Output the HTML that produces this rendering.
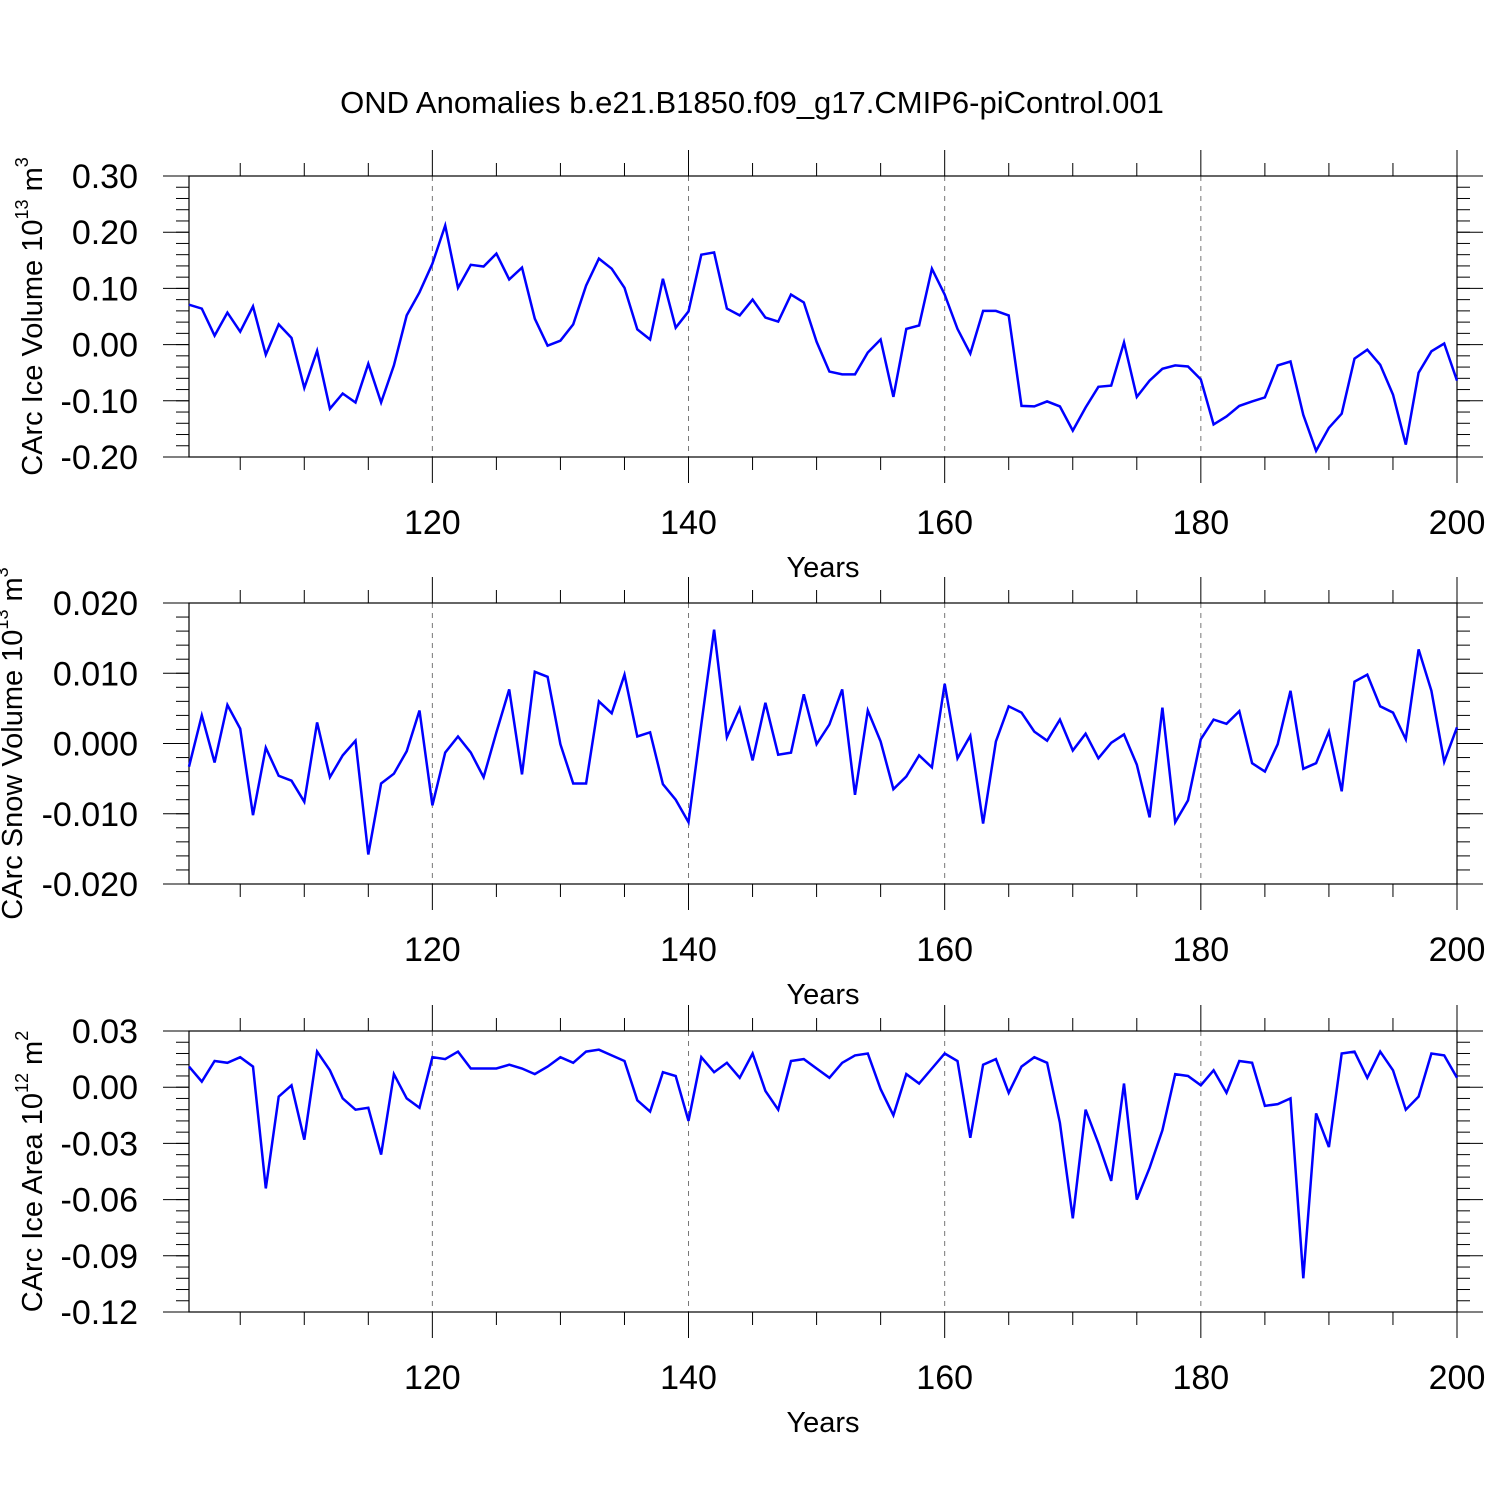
<!DOCTYPE html>
<html><head><meta charset="utf-8"><style>
html,body{margin:0;padding:0;background:#fff;}
svg{display:block;font-family:"Liberation Sans",sans-serif;}
</style></head><body>
<svg id="chart" width="1500" height="1500" viewBox="0 0 1500 1500" xmlns="http://www.w3.org/2000/svg">
<text x="752" y="113" font-size="31" text-anchor="middle">OND Anomalies b.e21.B1850.f09_g17.CMIP6-piControl.001</text>
</svg>
<script>
const years = []; for (let y = 101; y <= 200; y++) years.push(y);
const xTicks = [120, 140, 160, 180, 200];
const iceVolume = [0.071,0.064,0.016,0.057,0.023,0.068,-0.018,0.036,0.012,-0.077,-0.011,-0.114,-0.087,-0.103,-0.034,-0.103,-0.037,0.052,0.093,0.144,0.212,0.101,0.142,0.139,0.162,0.116,0.137,0.046,-0.002,0.007,0.036,0.105,0.153,0.135,0.101,0.027,0.009,0.117,0.030,0.059,0.160,0.164,0.064,0.052,0.080,0.048,0.041,0.089,0.075,0.005,-0.048,-0.053,-0.053,-0.014,0.009,-0.093,0.028,0.034,0.135,0.089,0.028,-0.016,0.060,0.060,0.052,-0.109,-0.110,-0.101,-0.110,-0.153,-0.112,-0.075,-0.073,0.004,-0.093,-0.064,-0.043,-0.037,-0.039,-0.062,-0.142,-0.128,-0.109,-0.101,-0.094,-0.037,-0.030,-0.125,-0.189,-0.148,-0.123,-0.025,-0.009,-0.036,-0.089,-0.178,-0.050,-0.012,0.002,-0.064];
const snowVolume = [-0.0033,0.0040,-0.0027,0.0055,0.0021,-0.0102,-0.0006,-0.0046,-0.0053,-0.0083,0.0030,-0.0048,-0.0017,0.0004,-0.0158,-0.0057,-0.0043,-0.0011,0.0047,-0.0088,-0.0013,0.0010,-0.0013,-0.0048,0.0016,0.0077,-0.0044,0.0102,0.0095,-0.0001,-0.0057,-0.0057,0.0060,0.0043,0.0098,0.0010,0.0016,-0.0058,-0.0080,-0.0112,0.0027,0.0162,0.0009,0.0050,-0.0024,0.0058,-0.0016,-0.0013,0.0070,-0.0001,0.0027,0.0077,-0.0073,0.0047,0.0003,-0.0065,-0.0047,-0.0017,-0.0034,0.0085,-0.0021,0.0011,-0.0114,0.0003,0.0053,0.0044,0.0017,0.0004,0.0034,-0.0010,0.0014,-0.0021,0.0001,0.0013,-0.0030,-0.0105,0.0051,-0.0112,-0.0081,0.0006,0.0034,0.0028,0.0046,-0.0028,-0.0040,-0.0001,0.0075,-0.0036,-0.0028,0.0017,-0.0068,0.0088,0.0098,0.0053,0.0044,0.0006,0.0134,0.0075,-0.0026,0.0023];
const iceArea = [0.011,0.003,0.014,0.013,0.016,0.011,-0.054,-0.005,0.001,-0.028,0.019,0.009,-0.006,-0.012,-0.011,-0.036,0.007,-0.006,-0.011,0.016,0.015,0.019,0.010,0.010,0.010,0.012,0.010,0.007,0.011,0.016,0.013,0.019,0.020,0.017,0.014,-0.007,-0.013,0.008,0.006,-0.018,0.016,0.008,0.013,0.005,0.018,-0.002,-0.012,0.014,0.015,0.010,0.005,0.013,0.017,0.018,-0.001,-0.015,0.007,0.002,0.010,0.018,0.014,-0.027,0.012,0.015,-0.003,0.011,0.016,0.013,-0.019,-0.070,-0.012,-0.030,-0.050,0.002,-0.060,-0.043,-0.023,0.007,0.006,0.001,0.009,-0.003,0.014,0.013,-0.010,-0.009,-0.006,-0.102,-0.014,-0.032,0.018,0.019,0.005,0.019,0.009,-0.012,-0.005,0.018,0.017,0.005];
const yTicks1 = [0.30,0.20,0.10,0.00,-0.10,-0.20], yLabels1 = ["0.30","0.20","0.10","0.00","-0.10","-0.20"];
const yTicks2 = [0.020,0.010,0.000,-0.010,-0.020], yLabels2 = ["0.020","0.010","0.000","-0.010","-0.020"];
const yTicks3 = [0.03,0.00,-0.03,-0.06,-0.09,-0.12], yLabels3 = ["0.03","0.00","-0.03","-0.06","-0.09","-0.12"];

const NS = "http://www.w3.org/2000/svg";
const svg = document.getElementById('chart');
function mk(tag, attrs, parent, text) {
  const e = document.createElementNS(NS, tag);
  for (const k in attrs) e.setAttribute(k, attrs[k]);
  if (text !== undefined) e.textContent = text;
  (parent || svg).appendChild(e);
  return e;
}
const L = 189, R = 1457, XMIN = 101, XMAX = 200;
const xs = v => L + (v - XMIN) / (XMAX - XMIN) * (R - L);

function panel(name, top, bottom, yMin, yMax, ticks, labels, minorStep, data, labelMain, sup, unit, labelY) {
  const g = mk('g', {});
  
  
  const ys = v => bottom - (v - yMin) / (yMax - yMin) * (bottom - top);
  xTicks.forEach(t => {
    if (t < XMAX) {
      const gl = mk('line', {x1: xs(t), x2: xs(t), y1: top, y2: bottom, stroke: '#777', 'stroke-width': 1, 'stroke-dasharray': '5,5'}, g);
      
      
    }
  });
  for (let t = 105; t <= 200; t += 5) {
    const major = xTicks.includes(t);
    const len = major ? 26 : 13;
    mk('line', {x1: xs(t), x2: xs(t), y1: top - len, y2: top, stroke: '#000', 'stroke-width': 1}, g);
    mk('line', {x1: xs(t), x2: xs(t), y1: bottom, y2: bottom + len, stroke: '#000', 'stroke-width': 1}, g);
  }
  xTicks.forEach(t => {
    const tl = mk('text', {x: xs(t), y: bottom + 77, 'font-size': 34, 'text-anchor': 'middle'}, g, String(t));
    
    
  });
  const nMinor = Math.round((yMax - yMin) / minorStep);
  for (let i = 0; i <= nMinor; i++) {
    const v = yMin + i * minorStep;
    const y = ys(v);
    mk('line', {x1: L - 13, x2: L, y1: y, y2: y, stroke: '#000', 'stroke-width': 1}, g);
    mk('line', {x1: R, x2: R + 13, y1: y, y2: y, stroke: '#000', 'stroke-width': 1}, g);
  }
  ticks.forEach((v, i) => {
    const y = ys(v);
    mk('line', {x1: L - 26, x2: L, y1: y, y2: y, stroke: '#000', 'stroke-width': 1}, g);
    mk('line', {x1: R, x2: R + 26, y1: y, y2: y, stroke: '#000', 'stroke-width': 1}, g);
    const tl = mk('text', {x: 138, y: y + 12, 'font-size': 34, 'text-anchor': 'end'}, g, labels[i]);
    
    
  });
  const fr = mk('rect', {x: L, y: top, width: R - L, height: bottom - top, fill: 'none', stroke: '#000', 'stroke-width': 1.2}, g);
  
  
  const pts = data.map((v, i) => xs(years[i]).toFixed(1) + ',' + ys(v).toFixed(1)).join(' ');
  const pl = mk('polyline', {points: pts, fill: 'none', stroke: '#0000ff', 'stroke-width': 2.5, 'stroke-linejoin': 'miter'}, g);
  
  
  const xt = mk('text', {x: 823, y: bottom + 120, 'font-size': 29, 'text-anchor': 'middle'}, g, 'Years');
  
  
  const cy = (top + bottom) / 2;
  const yt = mk('text', {x: 0, y: 0, 'font-size': 29, 'text-anchor': 'middle', transform: 'translate(' + labelY + ',' + cy + ') rotate(-90)'}, g);
  
  
  mk('tspan', {}, yt, labelMain);
  mk('tspan', {dy: -14, 'font-size': 18}, yt, sup);
  mk('tspan', {dy: 14}, yt, ' m');
  mk('tspan', {dy: -14, 'font-size': 18}, yt, unit);
}
panel('ice-volume', 176, 457, -0.20, 0.30, yTicks1, yLabels1, 0.02, iceVolume, 'CArc Ice Volume 10', '13', '3', 42);
panel('snow-volume', 603, 884, -0.020, 0.020, yTicks2, yLabels2, 0.002, snowVolume, 'CArc Snow Volume 10', '13', '3', 22);
panel('ice-area', 1031, 1312, -0.12, 0.03, yTicks3, yLabels3, 0.006, iceArea, 'CArc Ice Area 10', '12', '2', 42);
</script>
</body></html>
